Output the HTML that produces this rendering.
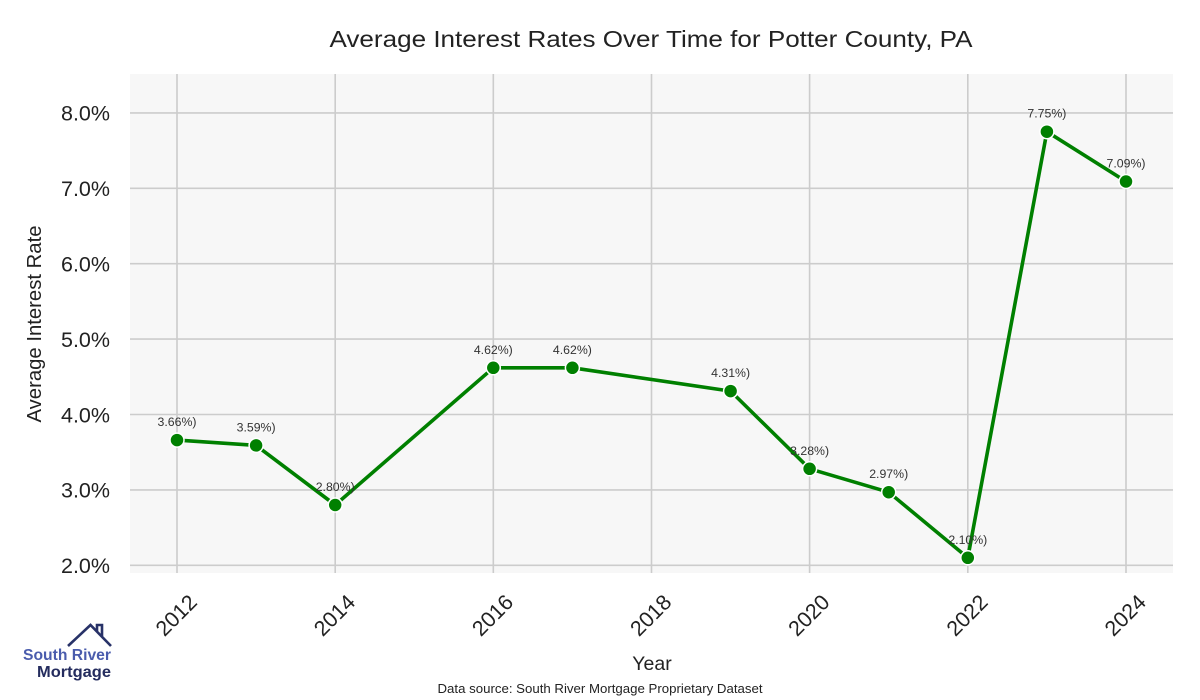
<!DOCTYPE html>
<html><head><meta charset="utf-8"><style>
html,body{margin:0;padding:0;background:#fff;}
svg{display:block;}
text{font-family:"Liberation Sans",Arial,sans-serif;}
</style></head><body>
<svg width="1200" height="700" viewBox="0 0 1200 700" xmlns="http://www.w3.org/2000/svg">
<rect x="0" y="0" width="1200" height="700" fill="#fff"/>
<text x="651" y="47" font-size="23" fill="#222" text-anchor="middle" textLength="643" lengthAdjust="spacingAndGlyphs">Average Interest Rates Over Time for Potter County, PA</text>
<rect x="130" y="74" width="1043" height="499" fill="#f7f7f7"/>
<g stroke="#cccccc" stroke-width="1.6">
<line x1="130" x2="1173" y1="112.9" y2="112.9"/>
<line x1="130" x2="1173" y1="188.3" y2="188.3"/>
<line x1="130" x2="1173" y1="263.7" y2="263.7"/>
<line x1="130" x2="1173" y1="339.1" y2="339.1"/>
<line x1="130" x2="1173" y1="414.5" y2="414.5"/>
<line x1="130" x2="1173" y1="489.9" y2="489.9"/>
<line x1="130" x2="1173" y1="565.3" y2="565.3"/>
<line x1="177" x2="177" y1="74" y2="573"/>
<line x1="335.2" x2="335.2" y1="74" y2="573"/>
<line x1="493.3" x2="493.3" y1="74" y2="573"/>
<line x1="651.5" x2="651.5" y1="74" y2="573"/>
<line x1="809.6" x2="809.6" y1="74" y2="573"/>
<line x1="967.8" x2="967.8" y1="74" y2="573"/>
<line x1="1126" x2="1126" y1="74" y2="573"/>
</g>
<g font-size="21.5" fill="#222" text-anchor="end">
<text x="110" y="120.7">8.0%</text>
<text x="110" y="196.1">7.0%</text>
<text x="110" y="271.5">6.0%</text>
<text x="110" y="346.9">5.0%</text>
<text x="110" y="422.3">4.0%</text>
<text x="110" y="497.7">3.0%</text>
<text x="110" y="573.1">2.0%</text>
</g>
<g font-size="21.5" fill="#222" text-anchor="middle">
<text x="176" y="622.7" transform="rotate(-45 176 615)">2012</text>
<text x="334.2" y="622.7" transform="rotate(-45 334.2 615)">2014</text>
<text x="492.3" y="622.7" transform="rotate(-45 492.3 615)">2016</text>
<text x="650.5" y="622.7" transform="rotate(-45 650.5 615)">2018</text>
<text x="808.6" y="622.7" transform="rotate(-45 808.6 615)">2020</text>
<text x="966.8" y="622.7" transform="rotate(-45 966.8 615)">2022</text>
<text x="1125" y="622.7" transform="rotate(-45 1125 615)">2024</text>
</g>
<text x="652" y="670" font-size="19.5" fill="#222" text-anchor="middle">Year</text>
<text x="41" y="324" font-size="20" fill="#222" text-anchor="middle" transform="rotate(-90 41 324)" textLength="197" lengthAdjust="spacingAndGlyphs">Average Interest Rate</text>
<text x="600" y="693" font-size="13" fill="#222" text-anchor="middle" textLength="325" lengthAdjust="spacingAndGlyphs">Data source: South River Mortgage Proprietary Dataset</text>
<polyline fill="none" stroke="#008000" stroke-width="3.6" stroke-linejoin="round" points="177,440.1 256.1,445.4 335.2,505.0 493.3,367.8 572.4,367.8 730.6,391.1 809.6,468.8 888.7,492.2 967.8,557.8 1046.9,131.7 1126,181.5"/>
<g fill="#008000" stroke="#ffffff" stroke-width="1.5">
<circle cx="177" cy="440.1" r="7"/>
<circle cx="256.1" cy="445.4" r="7"/>
<circle cx="335.2" cy="505.0" r="7"/>
<circle cx="493.3" cy="367.8" r="7"/>
<circle cx="572.4" cy="367.8" r="7"/>
<circle cx="730.6" cy="391.1" r="7"/>
<circle cx="809.6" cy="468.8" r="7"/>
<circle cx="888.7" cy="492.2" r="7"/>
<circle cx="967.8" cy="557.8" r="7"/>
<circle cx="1046.9" cy="131.7" r="7"/>
<circle cx="1126" cy="181.5" r="7"/>
</g>
<g font-size="12.3" fill="#333" text-anchor="middle">
<text x="177" y="426.1">3.66%)</text>
<text x="256.1" y="431.4">3.59%)</text>
<text x="335.2" y="491.0">2.80%)</text>
<text x="493.3" y="353.8">4.62%)</text>
<text x="572.4" y="353.8">4.62%)</text>
<text x="730.6" y="377.1">4.31%)</text>
<text x="809.6" y="454.8">3.28%)</text>
<text x="888.7" y="478.2">2.97%)</text>
<text x="967.8" y="543.8">2.10%)</text>
<text x="1046.9" y="117.7">7.75%)</text>
<text x="1126" y="167.5">7.09%)</text>
</g>
<g fill="none" stroke="#283268" stroke-width="2.6" stroke-linejoin="miter">
<polyline points="68,646 90.5,625 111,646"/>
<polyline points="97,631 97,625 102,625 102,636"/>
</g>
<text x="111" y="660" font-size="15.5" font-weight="bold" fill="#4a5cad" text-anchor="end" textLength="88" lengthAdjust="spacingAndGlyphs">South River</text>
<text x="111" y="677" font-size="16" font-weight="bold" fill="#242c5e" text-anchor="end" textLength="74" lengthAdjust="spacingAndGlyphs">Mortgage</text>
</svg>
</body></html>
